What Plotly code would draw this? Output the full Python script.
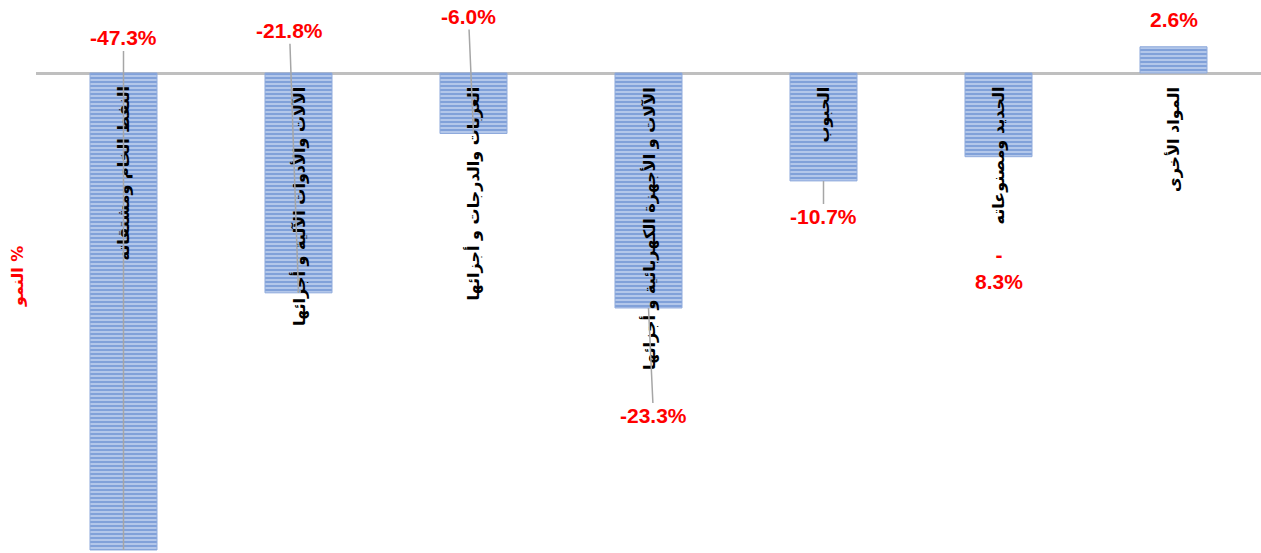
import plotly.graph_objects as go

categories = [
    "النفط الخام ومشتقاته",
    "الآلات والأدوات الآلية و أجزائها",
    "العربات والدرجات و أجزائها",
    "الآلات و الأجهزة الكهربائية و أجزائها",
    "الحبوب",
    "الحديد ومصنوعاته",
    "المواد الأخرى",
]
growth = [-47.3, -21.8, -6.0, -23.3, -10.7, -8.3, 2.6]
value_labels = ["-47.3%", "-21.8%", "-6.0%", "-23.3%", "-10.7%", "-<br>8.3%", "2.6%"]
y_title = "النمو %"

# label placement (pixel offsets from bar end) and whether a leader line is shown
label_ax = [0, -9, -5, 5, 0, 0, 0]
label_ay = [-512, -262, -117, 108, 36, 111, -27]
leader = [True, True, True, True, True, False, False]

fig = go.Figure()
fig.add_trace(go.Bar(
    x=categories,
    y=growth,
    marker=dict(
        pattern=dict(shape="-", fgcolor="#4472C4", bgcolor="#BFD0EE", size=4, solidity=0.6),
        line=dict(width=1, color="#8FAADC"),
    ),
    hoverinfo="skip",
))

annotations = []
# category labels (rotated, starting just below the zero line)
for c in categories:
    annotations.append(dict(
        x=c, y=0, xref="x", yref="y", text=f"<b>{c}</b>", textangle=-90,
        showarrow=False, yanchor="top", xanchor="center", yshift=-12,
        font=dict(family="DejaVu Sans", size=16, color="black"),
    ))
# value labels with leader lines
for c, v, t, ax, ay, ld in zip(categories, growth, value_labels, label_ax, label_ay, leader):
    annotations.append(dict(
        x=c, y=v, xref="x", yref="y", text=f"<b>{t}</b>",
        showarrow=True, arrowhead=0, arrowwidth=1.5,
        arrowcolor="#A6A6A6" if ld else "rgba(0,0,0,0)",
        ax=ax, ay=ay, standoff=0,
        font=dict(family="Liberation Sans", size=21, color="#FF0000"),
    ))
# y axis title
annotations.append(dict(
    x=0, y=0.5, xref="paper", yref="paper", text=f"<b>{y_title}</b>", textangle=-90,
    showarrow=False, xanchor="right", yanchor="middle", xshift=-7,
    font=dict(family="DejaVu Sans", size=16, color="#FF0000"),
))

fig.update_layout(
    width=1261, height=553,
    margin=dict(l=36, r=0, t=0, b=0),
    paper_bgcolor="white", plot_bgcolor="white",
    bargap=0.617,
    showlegend=False,
    annotations=annotations,
    xaxis=dict(showticklabels=False, showgrid=False, zeroline=False, showline=False, ticks=""),
    yaxis=dict(range=[-47.6, 7.24], showticklabels=False, showgrid=False,
               zeroline=True, zerolinecolor="#BFBFBF", zerolinewidth=3, ticks=""),
)

fig.write_html(
    "out.html",
    config={"displayModeBar": False},
    post_script="document.body.style.margin='0';document.body.style.overflow='hidden';",
)
